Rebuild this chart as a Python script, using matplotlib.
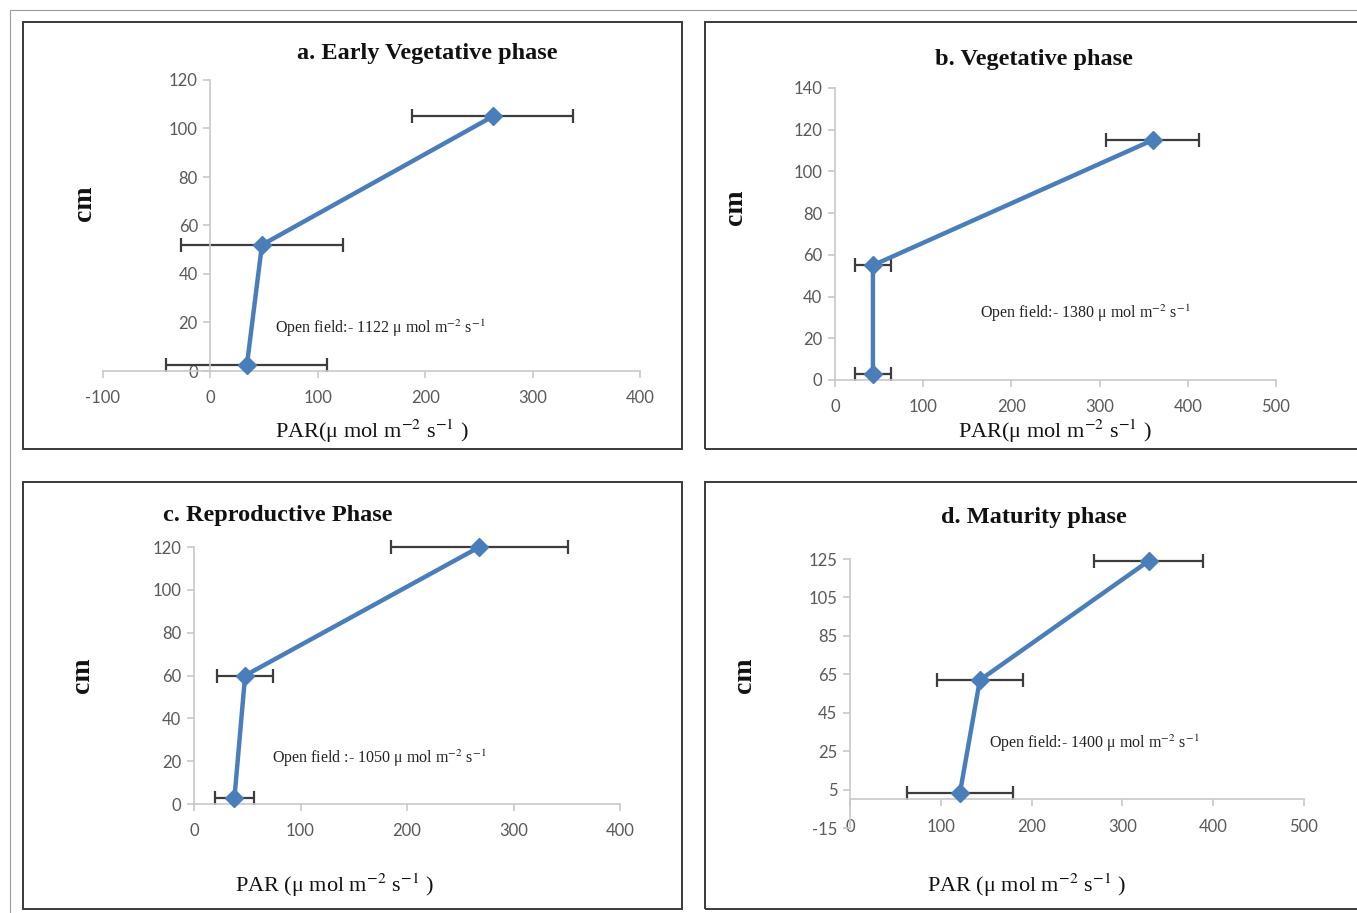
import matplotlib
matplotlib.use("Agg")
import matplotlib.pyplot as plt
from matplotlib.patches import Rectangle

plt.rcParams['mathtext.fontset'] = 'stix'
plt.rcParams['axes.unicode_minus'] = False

W, H = 1357, 913

# data (PAR, height in cm, +/- error)
titles = ["a. Early Vegetative phase", "b. Vegetative phase",
          "c. Reproductive Phase", "d. Maturity phase"]
a_par = [34, 48, 263]
a_cm = [2.5, 52, 105]
a_err = [75, 75, 75]
b_par = [43, 43, 360]
b_cm = [3, 55, 115]
b_err = [20, 20, 53]
c_par = [38, 48, 268]
c_cm = [3, 60, 120]
c_err = [18, 26, 83]
d_par = [121, 143, 329]
d_cm = [3, 62, 124]
d_err = [58, 47, 60]
open_field = [1122, 1380, 1050, 1400]
xticks = [[-100, 0, 100, 200, 300, 400], [0, 100, 200, 300, 400, 500],
          [0, 100, 200, 300, 400], [0, 100, 200, 300, 400, 500]]
yticks = [[0, 20, 40, 60, 80, 100, 120], [0, 20, 40, 60, 80, 100, 120, 140],
          [0, 20, 40, 60, 80, 100, 120], [-15, 5, 25, 45, 65, 85, 105, 125]]


def fx(px):
    return px / W


def fy(py):
    return 1 - py / H


fig = plt.figure(figsize=(13.57, 9.13), dpi=100)

# outer faint border + chart frames
fig.add_artist(Rectangle((fx(10), fy(1000)), 2, fy(10) - fy(1000), transform=fig.transFigure,
                         fill=False, ec='#9a9a9a', lw=0.8))
frames = [(23, 22, 682, 449), (705, 22, 1400, 449), (23, 482, 682, 909), (705, 482, 1400, 909)]
for x0, y0, x1, y1 in frames:
    fig.add_artist(Rectangle((fx(x0), fy(y1)), fx(x1) - fx(x0), fy(y0) - fy(y1),
                             transform=fig.transFigure, fill=False, ec='#3a3a3a', lw=1.4))

# axes boxes in pixels: left, right, top, bottom
boxes = [(103, 640, 80, 371), (835, 1276, 88, 380), (194, 620, 547, 804), (850, 1304, 559, 828)]
panels = [(a_par, a_cm, a_err), (b_par, b_cm, b_err), (c_par, c_cm, c_err), (d_par, d_cm, d_err)]
title_pos = [(427, 54), (1034, 60), (278, 516), (1034, 518)]
xlab_pos = [(372, 431), (1055, 431), (335, 885), (1027, 885)]
xlab_txt = [r"PAR(μ mol m$^{-2}$ s$^{-1}$ )", r"PAR(μ mol m$^{-2}$ s$^{-1}$ )",
            r"PAR (μ mol m$^{-2}$ s$^{-1}$ )", r"PAR (μ mol m$^{-2}$ s$^{-1}$ )"]
ylab_pos = [(85, 203), (735, 207), (82, 675), (745, 675)]
note_pos = [(60, 17.5), (164, 32), (73, 21.5), (153, 29)]
note_sep = [":- ", ":- ", " :- ", ":- "]

serif = ['Liberation Serif', 'DejaVu Serif']
gray = '#595959'
axcol = '#c8c8c8'

for i in range(4):
    l, r, t, b = boxes[i]
    ax = fig.add_axes([fx(l), fy(b), fx(r) - fx(l), fy(t) - fy(b)])
    par, cm, err = panels[i]
    ax.errorbar(par, cm, xerr=err, fmt='none', ecolor='#3c3c3c', elinewidth=1.6,
                capsize=5, capthick=1.6, zorder=2, clip_on=False)
    ax.plot(par, cm, color='#4a7ebb', lw=3.2, marker='D', ms=9.5, zorder=3, clip_on=False)

    ax.set_xlim(xticks[i][0], xticks[i][-1])
    ax.set_ylim(yticks[i][0], yticks[i][-1])
    ax.set_xticks(xticks[i])
    ax.set_yticks(yticks[i])
    ax.patch.set_alpha(0)
    for s in ['top', 'right']:
        ax.spines[s].set_visible(False)
    for s in ['left', 'bottom']:
        ax.spines[s].set_color(axcol)
        ax.spines[s].set_linewidth(1.2)
    ax.spines['left'].set_position(('data', 0))
    if i == 3:
        ax.spines['bottom'].set_position(('data', 0))
    ax.tick_params(axis='both', colors=axcol, labelcolor=gray, labelsize=12,
                   length=5, width=1.2, direction='out')
    ax.tick_params(axis='x', pad=9)
    ax.tick_params(axis='y', pad=4)
    for lab in ax.get_xticklabels() + ax.get_yticklabels():
        lab.set_fontfamily('Lato')

    ax.text(note_pos[i][0], note_pos[i][1],
            "Open field" + note_sep[i] + str(open_field[i]) + r" μ mol m$^{-2}$ s$^{-1}$",
            family=serif, fontsize=11.5, color='#222222', va='center', ha='left')

    fig.text(fx(title_pos[i][0]), fy(title_pos[i][1]), titles[i], family=serif,
             fontsize=17.5, fontweight='bold', ha='center', va='center', color='#111111')
    fig.text(fx(xlab_pos[i][0]), fy(xlab_pos[i][1]), xlab_txt[i], family=serif,
             fontsize=16, ha='center', va='center', color='#111111')
    fig.text(fx(ylab_pos[i][0]), fy(ylab_pos[i][1]), "cm", family=serif,
             fontsize=20, fontweight='bold', rotation=90, ha='center', va='center', color='#111111')

fig.savefig("out.png", dpi=100)
